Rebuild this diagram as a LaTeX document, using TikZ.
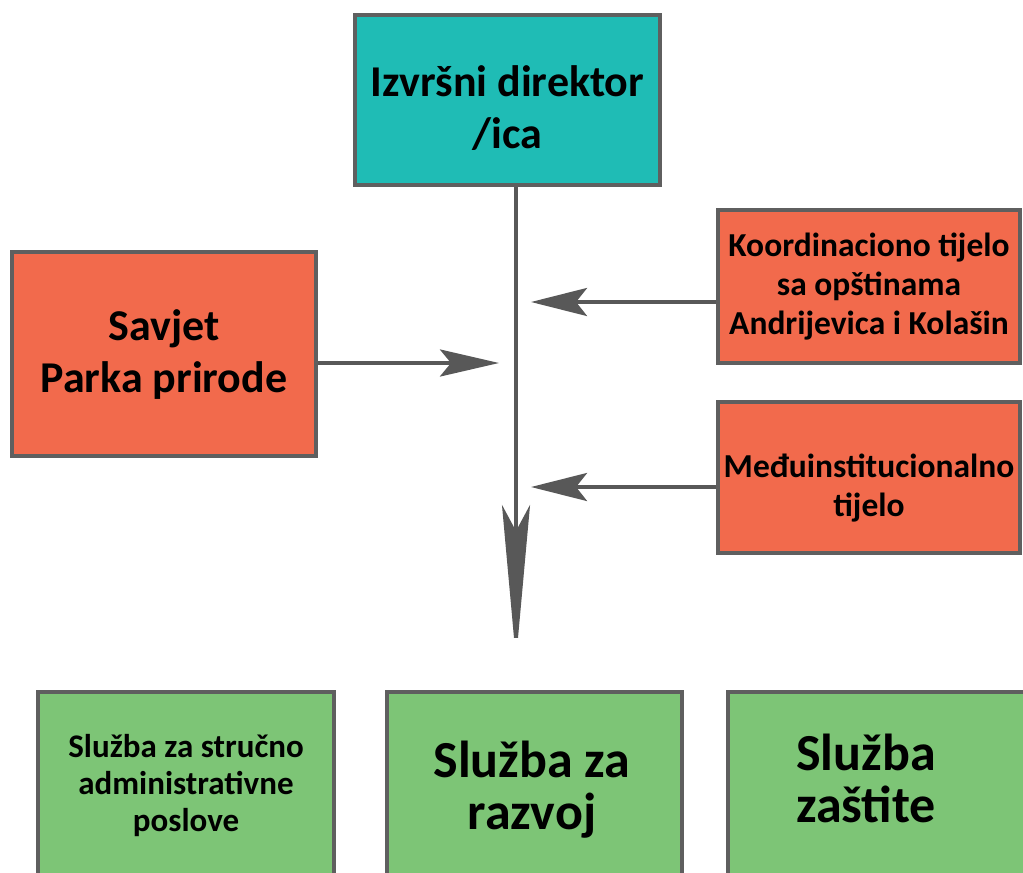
\documentclass[tikz,border=0pt]{standalone}
\usepackage{fontspec}
\setmainfont{Carlito}
\usetikzlibrary{arrows.meta}
\definecolor{tealc}{RGB}{31,188,181}
\definecolor{orangec}{RGB}{242,106,76}
\definecolor{greenc}{RGB}{125,197,118}
\definecolor{bordergray}{RGB}{95,95,95}
\definecolor{arrowgray}{RGB}{88,88,88}
\begin{document}
\begin{tikzpicture}[x=1pt,y=-1pt,
  box/.style={draw=bordergray, line width=4.5pt, rectangle, inner sep=0pt},
  big/.style={font=\bfseries\fontsize{44}{52}\selectfont, align=center, text=black, inner sep=0pt},
  mid/.style={font=\bfseries\fontsize{33.5}{39}\selectfont, align=center, text=black, inner sep=0pt},
  small/.style={font=\bfseries\fontsize{33}{37}\selectfont, align=center, text=black, inner sep=0pt},
  large/.style={font=\bfseries\fontsize{52}{52}\selectfont, align=center, text=black, inner sep=0pt},
  conn/.style={draw=arrowgray, line width=4pt},
  ]
\useasboundingbox (0,0) rectangle (1023,873);
\fill[white] (0,0) rectangle (1023,873);
\begin{scope}
\clip (0,0) rectangle (1023,873);
% boxes
\node[box, fill=tealc, minimum width=305pt, minimum height=170pt] (top) at (507.5,100) {};
\node[box, fill=orangec, minimum width=304pt, minimum height=204pt] (savjet) at (164,354) {};
\node[box, fill=orangec, minimum width=302pt, minimum height=153pt] (koord) at (869,286.5) {};
\node[box, fill=orangec, minimum width=302pt, minimum height=151pt] (medju) at (869,477.5) {};
\node[box, fill=greenc, minimum width=296pt, minimum height=230pt] (s1) at (186,807) {};
\node[box, fill=greenc, minimum width=295pt, minimum height=230pt] (s2) at (534.5,807) {};
\node[box, fill=greenc, minimum width=300pt, minimum height=230pt] (s3) at (878,807) {};
\end{scope}
% labels
\node[big] (toptxt) at (507.5,108) {Izvršni direktor\\/ica};
\node[big] (savjettxt) at (164,355) {Savjet\\Parka prirode};
\node[mid] (koordtxt) at (869,287) {Koordinaciono tijelo\\sa opštinama\\Andrijevica i Kolašin};
\node[mid] (medjutxt) at (869,488) {Međuinstitucionalno\\tijelo};
\node[small] (s1txt) at (186,786) {Služba za stručno\\administrativne\\poslove};
\node[large] (s2txt) at (532,790) {Služba za\\razvoj};
\node[large] (s3txt) at (866,778) {Služba\\zaštite};
% connectors
\coordinate (vend) at (516,660);
\coordinate (as) at (499,363);
\coordinate (ak) at (531,302);
\coordinate (am) at (531,487);
\draw[conn, -{Stealth[length=155pt, width=28pt, inset=26pt]}] (top.south -| vend) -- (vend);
\draw[conn, -{Stealth[length=59pt, width=27pt, inset=11pt]}] (savjet.east |- as) -- (as);
\draw[conn, -{Stealth[length=56pt, width=28pt, inset=11pt]}] (koord.west |- ak) -- (ak);
\draw[conn, -{Stealth[length=56pt, width=28pt, inset=11pt]}] (medju.west |- am) -- (am);
\end{tikzpicture}
\end{document}
